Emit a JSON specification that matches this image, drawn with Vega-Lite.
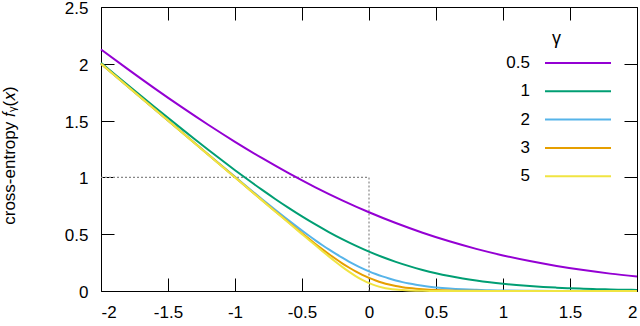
{
  "$schema": "https://vega.github.io/schema/vega-lite/v6.json",
  "width": 536,
  "height": 284,
  "autosize": {"type": "none"},
  "padding": {"left": 101, "top": 7, "right": 3, "bottom": 35},
  "background": "white",
  "config": {
    "view": {"stroke": null},
    "font": "Liberation Sans",
    "axis": {
      "grid": false,
      "domainColor": "#000",
      "domainWidth": 1,
      "tickColor": "#000",
      "tickWidth": 1,
      "tickSize": -13,
      "labelFont": "Liberation Sans",
      "labelFontSize": 17,
      "labelColor": "#000",
      "titleFont": "Liberation Sans",
      "titleFontSize": 17,
      "titleFontWeight": "normal",
      "titleColor": "#000"
    }
  },
  "datasets": {
    "ref": [
      {"x": -2, "f": 1, "o": 1},
      {"x": 0, "f": 1, "o": 2},
      {"x": 0, "f": 0, "o": 3}
    ],
    "curves": [
      {"x": -2, "f": 2.1269, "g": "0.5"},
      {"x": -1.8, "f": 1.953, "g": "0.5"},
      {"x": -1.6, "f": 1.7838, "g": "0.5"},
      {"x": -1.4, "f": 1.6204, "g": "0.5"},
      {"x": -1.2, "f": 1.4633, "g": "0.5"},
      {"x": -1, "f": 1.3133, "g": "0.5"},
      {"x": -0.8, "f": 1.1711, "g": "0.5"},
      {"x": -0.6, "f": 1.0375, "g": "0.5"},
      {"x": -0.4, "f": 0.913, "g": "0.5"},
      {"x": -0.2, "f": 0.7981, "g": "0.5"},
      {"x": 0, "f": 0.6931, "g": "0.5"},
      {"x": 0.2, "f": 0.5981, "g": "0.5"},
      {"x": 0.4, "f": 0.513, "g": "0.5"},
      {"x": 0.6, "f": 0.4375, "g": "0.5"},
      {"x": 0.8, "f": 0.3711, "g": "0.5"},
      {"x": 1, "f": 0.3133, "g": "0.5"},
      {"x": 1.2, "f": 0.2633, "g": "0.5"},
      {"x": 1.4, "f": 0.2204, "g": "0.5"},
      {"x": 1.6, "f": 0.1839, "g": "0.5"},
      {"x": 1.8, "f": 0.153, "g": "0.5"},
      {"x": 2, "f": 0.1269, "g": "0.5"},

      {"x": -2, "f": 2.0091, "g": "1"},
      {"x": -1.9, "f": 1.9111, "g": "1"},
      {"x": -1.8, "f": 1.8135, "g": "1"},
      {"x": -1.7, "f": 1.7164, "g": "1"},
      {"x": -1.6, "f": 1.62, "g": "1"},
      {"x": -1.5, "f": 1.5243, "g": "1"},
      {"x": -1.4, "f": 1.4295, "g": "1"},
      {"x": -1.3, "f": 1.3358, "g": "1"},
      {"x": -1.2, "f": 1.2434, "g": "1"},
      {"x": -1.1, "f": 1.1525, "g": "1"},
      {"x": -1, "f": 1.0635, "g": "1"},
      {"x": -0.9, "f": 0.9765, "g": "1"},
      {"x": -0.8, "f": 0.8919, "g": "1"},
      {"x": -0.7, "f": 0.8102, "g": "1"},
      {"x": -0.6, "f": 0.7317, "g": "1"},
      {"x": -0.5, "f": 0.6566, "g": "1"},
      {"x": -0.4, "f": 0.5856, "g": "1"},
      {"x": -0.3, "f": 0.5188, "g": "1"},
      {"x": -0.2, "f": 0.4565, "g": "1"},
      {"x": -0.1, "f": 0.3991, "g": "1"},
      {"x": 0, "f": 0.3466, "g": "1"},
      {"x": 0.1, "f": 0.2991, "g": "1"},
      {"x": 0.2, "f": 0.2565, "g": "1"},
      {"x": 0.3, "f": 0.2188, "g": "1"},
      {"x": 0.4, "f": 0.1856, "g": "1"},
      {"x": 0.5, "f": 0.1566, "g": "1"},
      {"x": 0.6, "f": 0.1317, "g": "1"},
      {"x": 0.7, "f": 0.1102, "g": "1"},
      {"x": 0.8, "f": 0.092, "g": "1"},
      {"x": 0.9, "f": 0.0765, "g": "1"},
      {"x": 1, "f": 0.0635, "g": "1"},
      {"x": 1.1, "f": 0.0525, "g": "1"},
      {"x": 1.2, "f": 0.0434, "g": "1"},
      {"x": 1.3, "f": 0.0358, "g": "1"},
      {"x": 1.4, "f": 0.0295, "g": "1"},
      {"x": 1.5, "f": 0.0243, "g": "1"},
      {"x": 1.6, "f": 0.02, "g": "1"},
      {"x": 1.7, "f": 0.0164, "g": "1"},
      {"x": 1.8, "f": 0.0135, "g": "1"},
      {"x": 1.9, "f": 0.0111, "g": "1"},
      {"x": 2, "f": 0.0091, "g": "1"},

      {"x": -2, "f": 2.0001, "g": "2"},
      {"x": -1.75, "f": 1.7502, "g": "2"},
      {"x": -1.5, "f": 1.5006, "g": "2"},
      {"x": -1.25, "f": 1.2517, "g": "2"},
      {"x": -1, "f": 1.0045, "g": "2"},
      {"x": -0.9, "f": 0.9067, "g": "2"},
      {"x": -0.8, "f": 0.81, "g": "2"},
      {"x": -0.7, "f": 0.7148, "g": "2"},
      {"x": -0.6, "f": 0.6217, "g": "2"},
      {"x": -0.5, "f": 0.5317, "g": "2"},
      {"x": -0.45, "f": 0.4883, "g": "2"},
      {"x": -0.4, "f": 0.446, "g": "2"},
      {"x": -0.35, "f": 0.4051, "g": "2"},
      {"x": -0.3, "f": 0.3658, "g": "2"},
      {"x": -0.25, "f": 0.3283, "g": "2"},
      {"x": -0.2, "f": 0.2928, "g": "2"},
      {"x": -0.15, "f": 0.2594, "g": "2"},
      {"x": -0.1, "f": 0.2283, "g": "2"},
      {"x": -0.05, "f": 0.1995, "g": "2"},
      {"x": 0, "f": 0.1733, "g": "2"},
      {"x": 0.05, "f": 0.1495, "g": "2"},
      {"x": 0.1, "f": 0.1283, "g": "2"},
      {"x": 0.15, "f": 0.1094, "g": "2"},
      {"x": 0.2, "f": 0.0928, "g": "2"},
      {"x": 0.25, "f": 0.0783, "g": "2"},
      {"x": 0.3, "f": 0.0658, "g": "2"},
      {"x": 0.35, "f": 0.0551, "g": "2"},
      {"x": 0.4, "f": 0.046, "g": "2"},
      {"x": 0.45, "f": 0.0383, "g": "2"},
      {"x": 0.5, "f": 0.0317, "g": "2"},
      {"x": 0.6, "f": 0.0217, "g": "2"},
      {"x": 0.7, "f": 0.0148, "g": "2"},
      {"x": 0.8, "f": 0.01, "g": "2"},
      {"x": 0.9, "f": 0.0067, "g": "2"},
      {"x": 1, "f": 0.0045, "g": "2"},
      {"x": 1.25, "f": 0.0017, "g": "2"},
      {"x": 1.5, "f": 0.0006, "g": "2"},
      {"x": 2, "f": 0.0001, "g": "2"},

      {"x": -2, "f": 2.0, "g": "3"},
      {"x": -1.5, "f": 1.5, "g": "3"},
      {"x": -1, "f": 1.0004, "g": "3"},
      {"x": -0.9, "f": 0.9008, "g": "3"},
      {"x": -0.8, "f": 0.8014, "g": "3"},
      {"x": -0.7, "f": 0.7025, "g": "3"},
      {"x": -0.6, "f": 0.6045, "g": "3"},
      {"x": -0.5, "f": 0.5081, "g": "3"},
      {"x": -0.45, "f": 0.4608, "g": "3"},
      {"x": -0.4, "f": 0.4145, "g": "3"},
      {"x": -0.35, "f": 0.3693, "g": "3"},
      {"x": -0.3, "f": 0.3255, "g": "3"},
      {"x": -0.25, "f": 0.2836, "g": "3"},
      {"x": -0.2, "f": 0.2439, "g": "3"},
      {"x": -0.15, "f": 0.2069, "g": "3"},
      {"x": -0.1, "f": 0.1729, "g": "3"},
      {"x": -0.05, "f": 0.1424, "g": "3"},
      {"x": 0, "f": 0.1155, "g": "3"},
      {"x": 0.05, "f": 0.0924, "g": "3"},
      {"x": 0.1, "f": 0.0729, "g": "3"},
      {"x": 0.15, "f": 0.0569, "g": "3"},
      {"x": 0.2, "f": 0.0439, "g": "3"},
      {"x": 0.25, "f": 0.0336, "g": "3"},
      {"x": 0.3, "f": 0.0255, "g": "3"},
      {"x": 0.35, "f": 0.0193, "g": "3"},
      {"x": 0.4, "f": 0.0145, "g": "3"},
      {"x": 0.45, "f": 0.0108, "g": "3"},
      {"x": 0.5, "f": 0.0081, "g": "3"},
      {"x": 0.6, "f": 0.0045, "g": "3"},
      {"x": 0.7, "f": 0.0025, "g": "3"},
      {"x": 0.8, "f": 0.0014, "g": "3"},
      {"x": 1, "f": 0.0004, "g": "3"},
      {"x": 1.5, "f": 0.0, "g": "3"},
      {"x": 2, "f": 0.0, "g": "3"},

      {"x": -2, "f": 2.0, "g": "5"},
      {"x": -1.5, "f": 1.5, "g": "5"},
      {"x": -1, "f": 1.0, "g": "5"},
      {"x": -0.9, "f": 0.9, "g": "5"},
      {"x": -0.8, "f": 0.8, "g": "5"},
      {"x": -0.7, "f": 0.7001, "g": "5"},
      {"x": -0.6, "f": 0.6002, "g": "5"},
      {"x": -0.5, "f": 0.5007, "g": "5"},
      {"x": -0.45, "f": 0.4511, "g": "5"},
      {"x": -0.4, "f": 0.4018, "g": "5"},
      {"x": -0.35, "f": 0.353, "g": "5"},
      {"x": -0.3, "f": 0.3049, "g": "5"},
      {"x": -0.25, "f": 0.2579, "g": "5"},
      {"x": -0.2, "f": 0.2127, "g": "5"},
      {"x": -0.15, "f": 0.1701, "g": "5"},
      {"x": -0.1, "f": 0.1313, "g": "5"},
      {"x": -0.05, "f": 0.0974, "g": "5"},
      {"x": 0, "f": 0.0693, "g": "5"},
      {"x": 0.05, "f": 0.0474, "g": "5"},
      {"x": 0.1, "f": 0.0313, "g": "5"},
      {"x": 0.15, "f": 0.0201, "g": "5"},
      {"x": 0.2, "f": 0.0127, "g": "5"},
      {"x": 0.25, "f": 0.0079, "g": "5"},
      {"x": 0.3, "f": 0.0049, "g": "5"},
      {"x": 0.35, "f": 0.003, "g": "5"},
      {"x": 0.4, "f": 0.0018, "g": "5"},
      {"x": 0.5, "f": 0.0007, "g": "5"},
      {"x": 0.6, "f": 0.0002, "g": "5"},
      {"x": 0.8, "f": 0.0, "g": "5"},
      {"x": 1, "f": 0.0, "g": "5"},
      {"x": 2, "f": 0.0, "g": "5"}
    ]
  },
  "layer": [
    {
      "data": {"name": "ref"},
      "mark": {"type": "line", "color": "#888888", "strokeWidth": 1.2, "strokeDash": [2, 2]},
      "encoding": {
        "x": {
          "field": "x", "type": "quantitative",
          "scale": {"domain": [-2, 2], "nice": false, "zero": false},
          "axis": {"orient": "top", "title": null, "labels": false, "values": [-2, -1.5, -1, -0.5, 0, 0.5, 1, 1.5, 2]}
        },
        "y": {
          "field": "f", "type": "quantitative",
          "scale": {"domain": [0, 2.5], "nice": false, "zero": false},
          "axis": {"orient": "right", "title": null, "labels": false, "values": [0, 0.5, 1, 1.5, 2, 2.5]}
        },
        "order": {"field": "o"}
      }
    },
    {
      "data": {"name": "curves"},
      "mark": {"type": "line", "strokeWidth": 2, "interpolate": "monotone"},
      "encoding": {
        "x": {
          "field": "x", "type": "quantitative",
          "axis": {"orient": "bottom", "title": null, "values": [-2, -1.5, -1, -0.5, 0, 0.5, 1, 1.5, 2], "labelExpr": "'' + datum.value", "labelPadding": 26}
        },
        "y": {
          "field": "f", "type": "quantitative",
          "axis": {"orient": "left", "title": "cross-entropy 𝑓ᵧ(𝑥)", "values": [0, 0.5, 1, 1.5, 2, 2.5], "labelExpr": "'' + datum.value", "labelPadding": 26, "labelOffset": 1.5, "titlePadding": 46, "titleY": 148}
        },
        "color": {
          "field": "g", "type": "nominal",
          "scale": {"domain": ["0.5", "1", "2", "3", "5"], "range": ["#9400d3", "#009e73", "#56b4e9", "#e69f00", "#f0e442"]},
          "legend": {
            "orient": "none", "legendX": 443, "legendY": 23,
            "title": "γ", "titleFontSize": 18, "titleFontWeight": "normal", "titleFont": "Liberation Sans", "titleAnchor": "start", "titlePadding": 1,
            "symbolType": "stroke", "symbolSize": 4356, "symbolStrokeWidth": 2,
            "clipHeight": 28, "rowPadding": 0.3,
            "labelAlign": "right", "labelOffset": -82, "labelFontSize": 17, "labelFont": "Liberation Sans", "labelColor": "#000",
            "padding": 0,
            "encoding": {"entries": {"width": {"value": 120}}, "title": {"dx": {"value": 8}}}
          }
        }
      }
    }
  ],
  "resolve": {"axis": {"x": "independent", "y": "independent"}}
}
